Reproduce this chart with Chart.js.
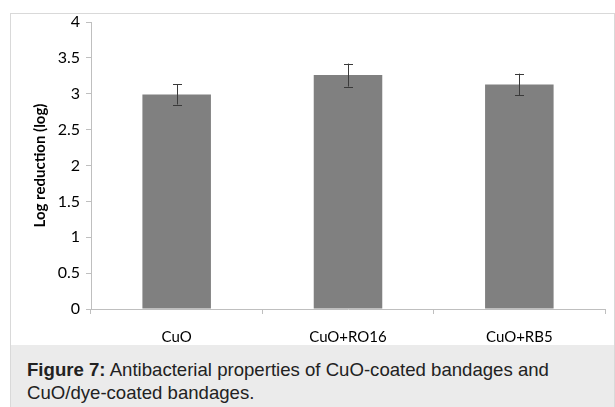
<!DOCTYPE html>
<html>
<head>
<meta charset="utf-8">
<script src="https://cdn.jsdelivr.net/npm/chart.js@4.4.1/dist/chart.umd.min.js"></script>
<style>
  html, body { margin: 0; padding: 0; background: #fff; }
  body { width: 615px; height: 407px; position: relative; overflow: hidden; }
  #frame {
    position: absolute; left: 10px; top: 13px; width: 603px; height: 393px;
    border: 1px solid #d9d9d9; border-bottom: none; background: #fff;
  }
  #plot { position: absolute; left: 0; top: 0; width: 603px; height: 331px; }
  #caption {
    position: absolute; left: 0; top: 331px; width: 603px; height: 62px;
    background: #ebebeb; box-sizing: border-box; padding: 13px 0 0 16px;
    font-family: "Liberation Sans", Arial, sans-serif; font-size: 18.6px;
    line-height: 23px; color: #222;
  }
</style>
</head>
<body>
<div id="frame">
  <div id="plot"><canvas id="chart" width="603" height="331"></canvas></div>
  <div id="caption"><b>Figure 7:</b> Antibacterial properties of CuO-coated bandages and<br>CuO/dye-coated bandages.</div>
</div>
<script>
// Coating types and their mean log reduction with standard deviation
const categories = ['CuO', 'CuO+RO16', 'CuO+RB5'];
const logReduction = [2.99, 3.26, 3.13];
const errorSD = [0.14, 0.16, 0.15];
const yTicks = [0, 0.5, 1, 1.5, 2, 2.5, 3, 3.5, 4];
const yTickLabels = ['0', '0.5', '1', '1.5', '2', '2.5', '3', '3.5', '4'];

const axisGrey = '#bfbfbf';
const fontFamily = 'Lato, "Open Sans", sans-serif';

// Vertical error bars with caps, placed via the chart's own scales
const errorBars = {
  id: 'errorBars',
  afterDatasetsDraw(chart) {
    const { ctx, scales: { y } } = chart;
    const meta = chart.getDatasetMeta(0);
    ctx.save();
    ctx.strokeStyle = '#3a3a3a';
    ctx.lineWidth = 1;
    meta.data.forEach((bar, i) => {
      const x = Math.round(bar.x) + 0.5;
      const hi = y.getPixelForValue(logReduction[i] + errorSD[i]);
      const lo = y.getPixelForValue(logReduction[i] - errorSD[i]);
      ctx.beginPath();
      ctx.moveTo(x, hi); ctx.lineTo(x, lo);
      ctx.moveTo(x - 4.5, Math.round(hi) + 0.5); ctx.lineTo(x + 4.5, Math.round(hi) + 0.5);
      ctx.moveTo(x - 4.5, Math.round(lo) + 0.5); ctx.lineTo(x + 4.5, Math.round(lo) + 0.5);
      ctx.stroke();
    });
    ctx.restore();
  }
};

new Chart(document.getElementById('chart'), {
  type: 'bar',
  data: {
    labels: categories,
    datasets: [{
      data: logReduction,
      backgroundColor: '#808080',
      borderWidth: 0,
      categoryPercentage: 1,
      barPercentage: 0.4
    }]
  },
  options: {
    responsive: false,
    animation: false,
    layout: { padding: { top: 8, right: 9, left: 0, bottom: 0 } },
    plugins: { legend: { display: false }, tooltip: { enabled: false } },
    scales: {
      x: {
        grid: { drawOnChartArea: false, color: axisGrey, tickLength: 5, offset: true },
        border: { color: axisGrey },
        ticks: { color: '#000', font: { family: fontFamily, size: 15 }, padding: 14 },
        afterFit(s) { s.height = 36; }
      },
      y: {
        min: 0, max: 4,
        afterBuildTicks(s) { s.ticks = yTicks.map(v => ({ value: v })); },
        grid: { drawOnChartArea: false, color: axisGrey, tickLength: 5 },
        border: { color: axisGrey },
        ticks: {
          color: '#000', font: { family: fontFamily, size: 16 }, padding: 6,
          callback: (v, i) => yTickLabels[i]
        },
        title: {
          display: true, text: 'Log reduction (log)', color: '#000',
          font: { family: fontFamily, size: 15, weight: 'bold' },
          padding: { top: 20, bottom: 0 }
        },
        afterFit(s) { s.width = 80; s.paddingTop = 0; s.paddingBottom = 0; }
      }
    }
  },
  plugins: [errorBars]
});
</script>
</body>
</html>
